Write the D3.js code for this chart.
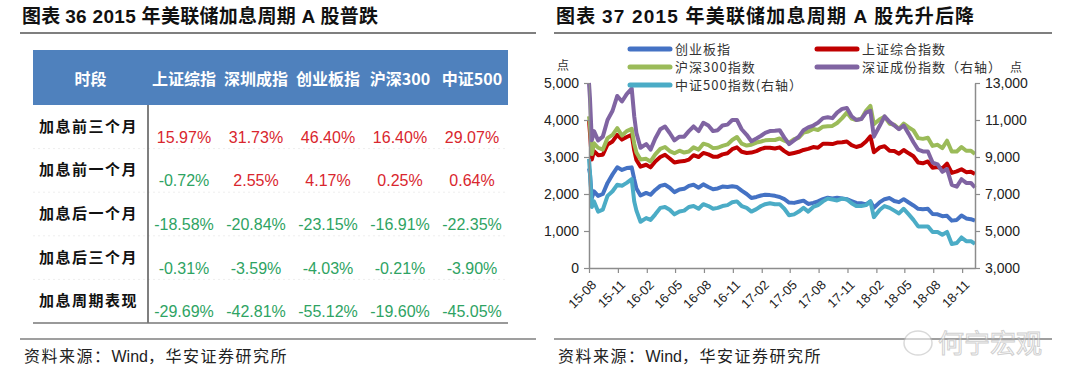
<!DOCTYPE html>
<html>
<head>
<meta charset="utf-8">
<script src="https://cdn.jsdelivr.net/npm/d3@7"></script>
<style>
body { margin: 0; background: #fff; }
svg { display: block; font-family: "Noto Sans CJK SC", sans-serif; }
</style>
</head>
<body>
<svg id="chart" width="1080" height="388"></svg>
<script>
// table data (图表36)
const tableCols = ["上证综指", "深圳成指", "创业板指", "沪深300", "中证500"];
const tableRows = ["加息前三个月", "加息前一个月", "加息后一个月", "加息后三个月", "加息周期表现"];
const tableVals = [
    [15.97, 31.73, 46.40, 16.40, 29.07],
    [-0.72, 2.55, 4.17, 0.25, 0.64],
    [-18.58, -20.84, -23.15, -16.91, -22.35],
    [-0.31, -3.59, -4.03, -0.21, -3.90],
    [-29.69, -42.81, -55.12, -19.60, -45.05]
];

// line chart data (图表37), roughly half-monthly readings
const dates = ["2015-08-17","2015-08-20","2015-08-26","2015-09-02","2015-09-15","2015-09-30","2015-10-15","2015-10-31",
    "2015-11-15","2015-11-30","2015-12-15","2015-12-31","2016-01-08","2016-01-15","2016-01-28","2016-02-15","2016-02-29",
    "2016-03-15","2016-03-31","2016-04-15","2016-04-30","2016-05-15","2016-05-31","2016-06-15","2016-06-30","2016-07-15",
    "2016-07-31","2016-08-15","2016-08-31","2016-09-15","2016-09-30","2016-10-15","2016-10-31","2016-11-15","2016-11-30",
    "2016-12-15","2016-12-31","2017-01-15","2017-01-31","2017-02-15","2017-02-28","2017-03-15","2017-03-31","2017-04-15",
    "2017-04-30","2017-05-15","2017-05-31","2017-06-15","2017-06-30","2017-07-15","2017-07-31","2017-08-15","2017-08-31",
    "2017-09-15","2017-09-30","2017-10-15","2017-10-31","2017-11-15","2017-11-30","2017-12-15","2017-12-31","2018-01-15",
    "2018-01-29","2018-02-09","2018-02-28","2018-03-15","2018-03-31","2018-04-15","2018-04-30","2018-05-15","2018-05-31",
    "2018-06-15","2018-06-30","2018-07-15","2018-07-31","2018-08-15","2018-08-31","2018-09-15","2018-09-30","2018-10-15",
    "2018-10-31","2018-11-15","2018-11-30","2018-12-15","2018-12-28"];

const chinext = [2690,2560,1890,2070,1950,2000,2300,2530,2720,2650,2700,2720,2400,2150,1960,2030,1980,2110,2220,2250,
    2170,2050,2120,2140,2220,2250,2170,2260,2190,2130,2150,2200,2190,2210,2190,2090,2000,1890,1920,1960,1980,1970,1950,
    1920,1860,1770,1760,1790,1820,1730,1760,1800,1860,1900,1880,1900,1880,1860,1810,1760,1750,1720,1800,1630,1780,1860,
    1890,1810,1780,1860,1770,1690,1600,1590,1600,1460,1450,1400,1410,1280,1300,1420,1340,1320,1280];

const shanghai = [3990,3660,2930,3160,3050,3060,3340,3420,3600,3470,3540,3600,3180,2920,2740,2790,2720,2880,3000,3060,
    2960,2850,2880,2890,2930,3050,3000,3110,3070,3010,3010,3070,3100,3210,3260,3140,3110,3120,3160,3220,3250,3250,3230,
    3260,3160,3080,3110,3140,3190,3220,3270,3250,3360,3360,3350,3390,3400,3420,3320,3270,3310,3420,3560,3130,3260,3290,
    3170,3160,3090,3190,3100,3020,2850,2830,2880,2710,2730,2690,2820,2570,2610,2670,2590,2600,2540];

const csi300 = [4100,3880,3080,3370,3250,3200,3510,3600,3780,3580,3700,3760,3360,3120,2930,2950,2880,3070,3220,3270,
    3160,3100,3170,3120,3150,3260,3200,3360,3320,3240,3250,3300,3340,3460,3540,3360,3310,3330,3390,3420,3450,3460,3460,
    3500,3440,3390,3480,3520,3660,3690,3760,3730,3820,3830,3840,3920,4050,4200,4040,4000,4030,4250,4380,3890,4020,4090,
    3900,3870,3760,3900,3800,3720,3510,3490,3520,3300,3330,3240,3440,3150,3150,3270,3170,3170,3080];

const szComponent = [13000,12200,9900,10400,9900,10100,11000,11500,12300,12000,12400,12700,11200,10300,9500,9700,9400,
    10000,10500,10650,10300,9900,10100,10100,10400,10650,10400,10850,10700,10400,10450,10700,10750,11000,11000,10500,
    10200,9850,10000,10150,10300,10400,10420,10450,10050,9700,9900,10100,10450,10600,10700,10850,11100,11150,11100,
    11400,11600,11650,11200,11000,11050,11400,11500,10100,10700,11200,10900,10700,10500,10700,10250,9800,9400,9300,9300,
    8700,8600,8200,8350,7500,7400,7800,7600,7600,7350];

const csi500 = [8900,8200,6300,6600,6050,6150,6900,7150,7500,7450,7600,7800,6600,6100,5500,5700,5600,5900,6250,6300,
    6150,5900,6050,6100,6300,6350,6200,6450,6350,6200,6250,6350,6400,6550,6600,6350,6250,6050,6180,6350,6450,6500,6450,
    6450,6200,5850,5900,6050,6250,6050,6300,6400,6600,6750,6700,6650,6750,6700,6500,6350,6350,6400,6600,5750,6150,6350,
    6250,6100,5950,6200,5900,5600,5250,5250,5250,4950,4950,4800,4950,4300,4350,4650,4450,4450,4300];

const xTickLabels = ["15-08","15-11","16-02","16-05","16-08","16-11","17-02","17-05","17-08","17-11","18-02","18-05","18-08","18-11"];
const leftTicks = [0, 1000, 2000, 3000, 4000, 5000];
const rightTicks = [3000, 5000, 7000, 9000, 11000, 13000];

const series = [
    { name: "创业板指", values: chinext, axis: "left", color: "#4472c4" },
    { name: "上证综合指数", values: shanghai, axis: "left", color: "#c00000" },
    { name: "沪深300指数", values: csi300, axis: "left", color: "#9bbb59" },
    { name: "深证成份指数（右轴）", values: szComponent, axis: "right", color: "#8064a2" },
    { name: "中证500指数(右轴）", values: csi500, axis: "right", color: "#4bacc6" }
];

const svg = d3.select("#chart");
const fmt = d3.format(",");
const latin = "Arial, 'Liberation Sans', sans-serif";

// ---------- titles & rules ----------
function titleBlock(x0, x1, num, text1, text2, spacing) {
    const t = svg.append("text")
        .attr("x", x0 + 2).attr("y", 23)
        .attr("font-size", 19).attr("font-weight", "bold").attr("fill", "#111")
        .attr("letter-spacing", spacing);
    t.append("tspan").text("图表 ");
    t.append("tspan").attr("font-family", latin).text(num + " 2015 ");
    t.append("tspan").text(text1);
    t.append("tspan").attr("font-family", latin).text(" A ");
    t.append("tspan").text(text2);
    svg.append("line").attr("x1", x0).attr("x2", x1).attr("y1", 33).attr("y2", 33)
        .attr("stroke", "#7f7f7f").attr("stroke-width", 2);
    svg.append("line").attr("x1", x0).attr("x2", x1).attr("y1", 339).attr("y2", 339)
        .attr("stroke", "#7f7f7f").attr("stroke-width", 1.5);
    const s = svg.append("text").attr("x", x0 + 4).attr("y", 362)
        .attr("font-size", 16).attr("fill", "#222").attr("letter-spacing", 1.5);
    s.append("tspan").text("资料来源：");
    s.append("tspan").attr("font-family", latin).attr("letter-spacing", 0).text("Wind");
    s.append("tspan").text("，华安证券研究所");
}
titleBlock(20, 536, "36", "年美联储加息周期", "股普跌", 0.3);
titleBlock(554, 1052, "37", "年美联储加息周期", "股先升后降", 1.2);

// ---------- table ----------
const tb = { left: 33, divider: 148, right: 508, top: 50, head: 105, bottom: 323 };
const colX = d3.scaleBand().domain(tableCols).range([tb.divider, tb.right]);
const rowY = d3.scaleBand().domain(tableRows).range([tb.head, tb.bottom]);

svg.append("rect").attr("x", tb.left).attr("y", tb.top)
    .attr("width", tb.right - tb.left).attr("height", tb.head - tb.top)
    .attr("fill", "#4f81bd");
svg.append("text").attr("x", (tb.left + tb.divider) / 2).attr("y", 85)
    .attr("text-anchor", "middle").attr("font-size", 16).attr("font-weight", "bold")
    .attr("fill", "#fff").text("时段");
svg.selectAll(".colhead").data(tableCols).enter().append("text")
    .attr("x", d => colX(d) + colX.bandwidth() / 2).attr("y", 85)
    .attr("text-anchor", "middle").attr("font-size", 16).attr("font-weight", "bold")
    .attr("fill", "#fff").text(d => d);

svg.selectAll(".rowsep").data(tableRows.slice(1)).enter().append("line")
    .attr("x1", tb.left).attr("x2", tb.right)
    .attr("y1", d => rowY(d)).attr("y2", d => rowY(d))
    .attr("stroke", "#eeeeee").attr("stroke-dasharray", "2,3");
svg.append("line").attr("x1", tb.divider).attr("x2", tb.divider)
    .attr("y1", tb.head).attr("y2", tb.bottom).attr("stroke", "#555").attr("stroke-width", 1.5);
svg.append("line").attr("x1", tb.left).attr("x2", tb.right)
    .attr("y1", tb.bottom).attr("y2", tb.bottom).attr("stroke", "#777").attr("stroke-width", 1.5);

tableRows.forEach((r, i) => {
    const cy = rowY(r) + rowY.bandwidth() / 2;
    svg.append("text").attr("x", (tb.left + tb.divider) / 2 - 2).attr("y", cy + 5)
        .attr("text-anchor", "middle").attr("font-size", 15).attr("font-weight", "bold")
        .attr("fill", "#111").attr("letter-spacing", 1.5).text(r);
    tableVals[i].forEach((v, j) => {
        svg.append("text")
            .attr("x", colX(tableCols[j]) + colX.bandwidth() / 2).attr("y", cy + 16)
            .attr("text-anchor", "middle").attr("font-family", latin).attr("font-size", 16)
            .attr("fill", v >= 0 ? "#d9262e" : "#2ea363")
            .text(v.toFixed(2) + "%");
    });
});

// ---------- line chart ----------
const parse = d3.timeParse("%Y-%m-%d");
const dateVals = dates.map(parse);
const plot = { left: 589, right: 975, top: 83, bottom: 268 };

const x = d3.scaleTime().domain(d3.extent(dateVals)).range([plot.left, plot.right]);
const yL = d3.scaleLinear().domain([0, 5000]).range([plot.bottom, plot.top]);
const yR = d3.scaleLinear().domain([3000, 13000]).range([plot.bottom, plot.top]);
const xTickVals = xTickLabels.map((d, i) => d3.timeMonth.offset(dateVals[0], 3 * i));

const g = svg.append("g");
series.forEach(s => {
    const yy = s.axis === "left" ? yL : yR;
    const line = d3.line().x((d, i) => x(dateVals[i])).y(d => yy(d));
    g.append("path").datum(s.values)
        .attr("d", line)
        .attr("fill", "none")
        .attr("stroke", s.color)
        .attr("stroke-width", 4)
        .attr("stroke-linejoin", "round");
});

function styleAxis(sel) {
    sel.select(".domain").attr("stroke", "#8c8c8c").attr("stroke-width", 1.5);
    sel.selectAll(".tick line").attr("stroke", "#8c8c8c").attr("stroke-width", 1.2);
    sel.selectAll("text").attr("font-family", latin).attr("fill", "#222");
}

svg.append("g").attr("transform", `translate(${plot.left},0)`)
    .call(d3.axisLeft(yL).tickValues(leftTicks).tickFormat(fmt).tickSize(5).tickSizeOuter(0).tickPadding(5))
    .call(styleAxis)
    .selectAll("text").attr("font-size", 14);

svg.append("g").attr("transform", `translate(${plot.right},0)`)
    .call(d3.axisRight(yR).tickValues(rightTicks).tickFormat(fmt).tickSize(5).tickSizeOuter(0).tickPadding(5))
    .call(styleAxis)
    .selectAll("text").attr("font-size", 14);

const xAxisG = svg.append("g").attr("transform", `translate(0,${plot.bottom})`)
    .call(d3.axisBottom(x).tickValues(xTickVals).tickFormat((d, i) => xTickLabels[i]).tickSize(5).tickSizeOuter(0))
    .call(styleAxis);
xAxisG.selectAll("text")
    .attr("font-size", 13)
    .attr("text-anchor", "end")
    .attr("dx", 0).attr("dy", 0)
    .attr("transform", "translate(2,12) rotate(-45)");

// units
svg.append("text").attr("x", 557).attr("y", 70).attr("font-size", 12).attr("fill", "#333").text("点");
svg.append("text").attr("x", 1010).attr("y", 72).attr("font-size", 12).attr("fill", "#333").text("点");

// legend
const legendPos = [[630, 49], [817, 49], [630, 67], [817, 67], [630, 85]];
series.forEach((s, i) => {
    const [lx, ly] = legendPos[i];
    svg.append("line").attr("x1", lx).attr("x2", lx + 40).attr("y1", ly).attr("y2", ly)
        .attr("stroke", s.color).attr("stroke-width", 5).attr("stroke-linecap", "round");
    svg.append("text").attr("x", lx + 45).attr("y", ly + 5)
        .attr("font-size", 13).attr("fill", "#333").attr("letter-spacing", 1).text(s.name);
});

// watermark
const wm = svg.append("g").attr("opacity", 0.55);
wm.append("ellipse").attr("cx", 918).attr("cy", 343).attr("rx", 14).attr("ry", 12)
    .attr("fill", "#fff").attr("stroke", "#bbb").attr("stroke-width", 1.5);
wm.append("text").attr("x", 938).attr("y", 353).attr("font-size", 26)
    .attr("fill", "#fff").attr("stroke", "#aaa").attr("stroke-width", 1).text("何宁宏观");
</script>
</body>
</html>
